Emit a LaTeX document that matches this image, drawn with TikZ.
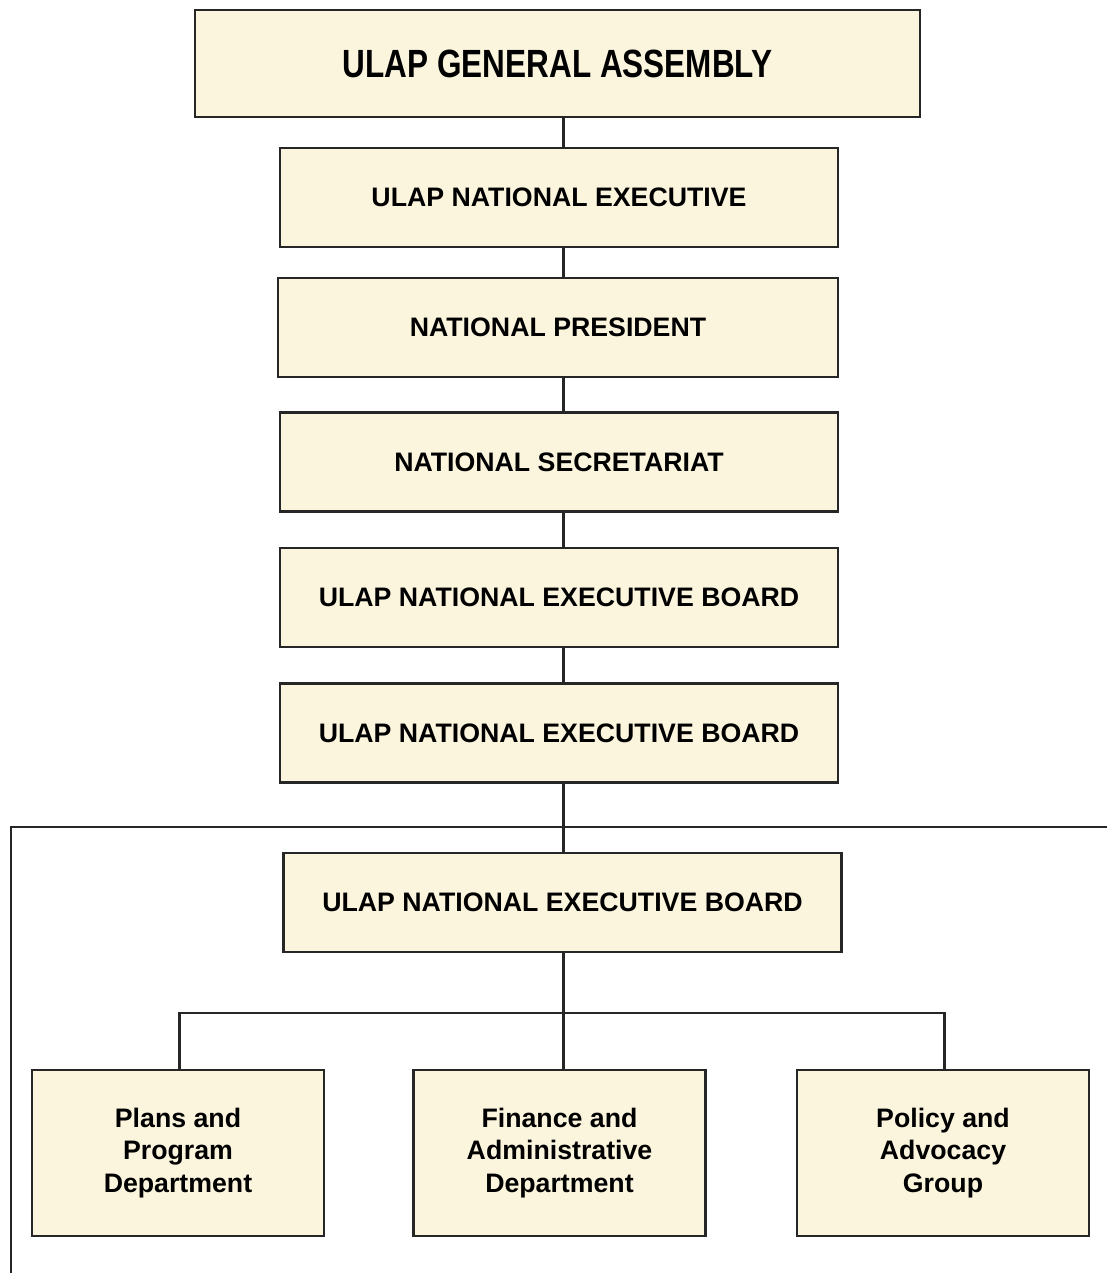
\documentclass[tikz,border=0pt]{standalone}
\usepackage{fontspec}
\setmainfont{Liberation Sans}
\newfontfamily\narrowfont{Liberation Sans}[FakeStretch=0.8]
\usepackage{xcolor}
\definecolor{boxfill}{RGB}{252,245,222}
\definecolor{boxline}{RGB}{38,38,38}

\begin{document}
\begin{tikzpicture}[x=0.025cm,y=-0.025cm,
  orgbox/.style={draw=boxline,line width=1.8pt,fill=boxfill,
    font=\fontsize{19}{23}\selectfont\bfseries,align=center,inner sep=0pt},
  midbox/.style={orgbox,minimum width=13.95cm,minimum height=2.475cm},
  deptbox/.style={orgbox,minimum width=7.3cm,minimum height=4.15cm},
  link/.style={draw=boxline,line width=1.8pt}]
  \useasboundingbox (0,0) rectangle (1107,1273);

  % upper chain
  \node[orgbox,minimum width=18.125cm,minimum height=2.675cm,
    font=\narrowfont\fontsize{28}{32}\selectfont\bfseries] (assembly) at (557.5,63.5) {ULAP GENERAL ASSEMBLY};
  \node[midbox] (natexec) at (559,197.5) {ULAP NATIONAL EXECUTIVE};
  \node[midbox,minimum width=14cm] (president) at (558,327.5) {NATIONAL PRESIDENT};
  \node[midbox] (secretariat) at (559,462) {NATIONAL SECRETARIAT};
  \node[midbox] (boardA) at (559,597.5) {ULAP NATIONAL EXECUTIVE BOARD};
  \node[midbox] (boardB) at (559,733) {ULAP NATIONAL EXECUTIVE BOARD};
  \node[midbox] (boardC) at (562.5,902.5) {ULAP NATIONAL EXECUTIVE BOARD};

  % departments
  \node[deptbox] (plans) at (178,1153) {Plans and\\Program\\Department};
  \node[deptbox] (finance) at (559.5,1153) {Finance and\\Administrative\\Department};
  \node[deptbox] (policy) at (943,1153) {Policy and\\Advocacy\\Group};

  \coordinate (spine) at (563.5,0);
  \coordinate (railR) at (1107,827);
  \coordinate (railL) at (11,827);
  \coordinate (railEnd) at (11,1273);
  \coordinate (bus) at (563.5,1013);

  \draw[link] (assembly.south -| spine) -- (natexec.north -| spine);
  \draw[link] (natexec.south -| spine) -- (president.north -| spine);
  \draw[link] (president.south -| spine) -- (secretariat.north -| spine);
  \draw[link] (secretariat.south -| spine) -- (boardA.north -| spine);
  \draw[link] (boardA.south -| spine) -- (boardB.north -| spine);
  \draw[link] (boardB.south -| spine) -- (boardC.north -| spine);
  \draw[link] (railR) -- (railL) -- (railEnd);
  \draw[link] (boardC.south -| bus) -- (bus);
  \draw[link] ([xshift=1]plans.north) |- (bus) -| ([xshift=1]policy.north);
  \draw[link] (bus) -- (finance.north -| bus);
\end{tikzpicture}
\end{document}
